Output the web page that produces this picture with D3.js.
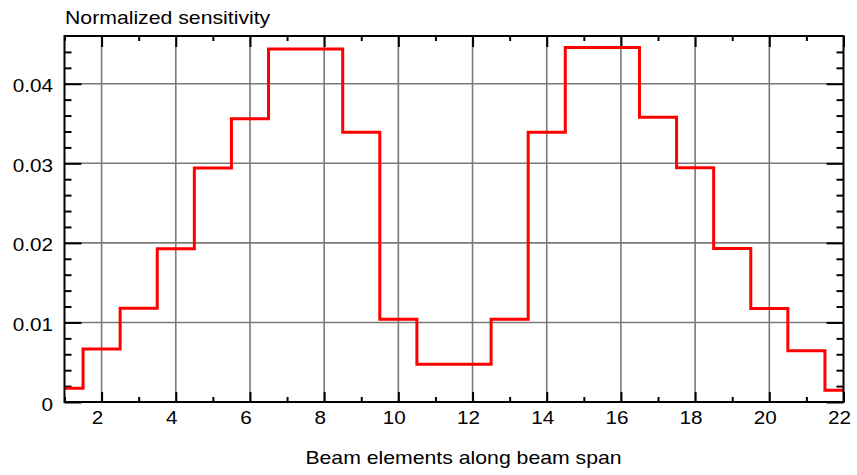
<!DOCTYPE html>
<html>
<head>
<meta charset="utf-8">
<script src="https://cdn.jsdelivr.net/npm/d3@7"></script>
<style>
  html, body { margin: 0; padding: 0; background: #fff; }
  text { font-family: "Liberation Sans", Arial, sans-serif; fill: #000; }
</style>
</head>
<body>
<svg id="chart" width="857" height="475"></svg>
<script>
// Beam elements (x) and their normalized sensitivity values
const elements = [1,2,3,4,5,6,7,8,9,10,11,12,13,14,15,16,17,18,19,20,21,22];
const sensitivity = [
  0.00172, 0.00667, 0.01178, 0.01925, 0.0294, 0.0356, 0.04436, 0.04436,
  0.0339, 0.0104, 0.00474, 0.00474, 0.0104, 0.0339, 0.04457, 0.04457,
  0.0358, 0.02945, 0.0193, 0.01174, 0.00645, 0.00147
];

// Axis ticks and labels
const xMajorTicks = [2,4,6,8,10,12,14,16,18,20,22];
const xTickLabels = ["2","4","6","8","10","12","14","16","18","20","22"];
const xMinorTicks = [1,3,5,7,9,11,13,15,17,19,21];
const yMajorTicks = [0, 0.01, 0.02, 0.03, 0.04];
const yTickLabels = ["0","0.01","0.02","0.03","0.04"];
const yMinorTicks = [0.002,0.004,0.006,0.008,0.012,0.014,0.016,0.018,0.022,0.024,0.026,0.028,0.032,0.034,0.036,0.038,0.042,0.044];
const xGrid = [2,4,6,8,10,12,14,16,18,20];
const yGrid = [0.01, 0.02, 0.03, 0.04];

const titleText = "Normalized sensitivity";
const xLabelText = "Beam elements along beam span";

const plotLeft = 64.5, plotRight = 843.5, plotTop = 36, plotBottom = 402;
const svg = d3.select("#chart");

const x = d3.scaleLinear().domain([1, 22]).range([plotLeft, plotRight]);
const y = d3.scaleLinear().domain([0, 0.046]).range([plotBottom, plotTop]);

function label(g, tx, ty, str, anchor, size, sx) {
  g.append("text")
    .attr("transform", `translate(${tx},${ty}) scale(${sx},1)`)
    .attr("text-anchor", anchor)
    .style("font-size", size + "px")
    .text(str);
}

// Grid
const grid = svg.append("g").attr("stroke", "#7a7a7a").attr("stroke-width", 1.6);
grid.selectAll("line.v").data(xGrid).join("line")
  .attr("x1", d => x(d)).attr("x2", d => x(d))
  .attr("y1", plotTop).attr("y2", plotBottom);
grid.selectAll("line.h").data(yGrid).join("line")
  .attr("x1", plotLeft).attr("x2", plotRight)
  .attr("y1", d => y(d)).attr("y2", d => y(d));

// Inward ticks on all four sides
function tickAxis(axisFn, scale, values, size, transform) {
  const g = svg.append("g").attr("transform", transform)
    .call(axisFn(scale).tickValues(values).tickSize(size).tickFormat(""));
  g.select(".domain").remove();
  g.selectAll(".tick line").attr("stroke", "#000").attr("stroke-width", 2);
}
tickAxis(d3.axisBottom, x, xMajorTicks, -10, `translate(0,${plotBottom})`);
tickAxis(d3.axisBottom, x, xMinorTicks, -5, `translate(0,${plotBottom})`);
tickAxis(d3.axisTop, x, xMajorTicks, -11, `translate(0,${plotTop})`);
tickAxis(d3.axisTop, x, xMinorTicks, -5, `translate(0,${plotTop})`);
tickAxis(d3.axisLeft, y, yMajorTicks, -17, `translate(${plotLeft},0)`);
tickAxis(d3.axisLeft, y, yMinorTicks, -7, `translate(${plotLeft},0)`);
tickAxis(d3.axisRight, y, yMajorTicks, -17, `translate(${plotRight},0)`);
tickAxis(d3.axisRight, y, yMinorTicks, -7, `translate(${plotRight},0)`);

// Sensitivity step line
const line = d3.line()
  .x((d, i) => x(elements[i]))
  .y(d => y(d))
  .curve(d3.curveStep);
svg.append("path")
  .datum(sensitivity)
  .attr("fill", "none")
  .attr("stroke", "#ff0000")
  .attr("stroke-width", 3)
  .attr("d", line);

// Frame
svg.append("rect")
  .attr("x", plotLeft).attr("y", plotTop)
  .attr("width", plotRight - plotLeft).attr("height", plotBottom - plotTop)
  .attr("fill", "none").attr("stroke", "#000").attr("stroke-width", 2);

// Tick labels
const labels = svg.append("g");
xMajorTicks.forEach((v, i) => label(labels, x(v) - 4, 424, xTickLabels[i], "middle", 18, 1.15));
yMajorTicks.forEach((v, i) => label(labels, 53, y(v) + 8.5, yTickLabels[i], "end", 18, 1.15));

// Titles
label(labels, 65, 24, titleText, "start", 18, 1.18);
label(labels, 463.5, 464, xLabelText, "middle", 18, 1.18);
</script>
</body>
</html>
